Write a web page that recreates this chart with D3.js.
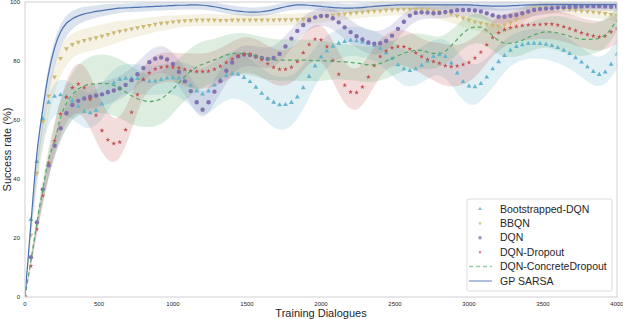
<!DOCTYPE html>
<html>
<head>
<meta charset="utf-8">
<script src="https://cdn.jsdelivr.net/npm/d3@7"></script>
<style>
  body { margin: 0; background: #fff; }
  text { font-family: "Liberation Sans", Arial, sans-serif; fill: #262626; }
</style>
</head>
<body>
<div id="chart"></div>
<script>
// x positions of the smoothed curves (every 40 dialogues) and of the band widths (every 80)
var dialogues = d3.range(0, 4001, 40),
    bandDialogues = d3.range(0, 4001, 80);

var bootstrapped = [
  0, 26.2, 45.9, 60.5, 66.0, 68.0, 68.5, 67.9, 66.5, 64.6,
  62.9, 62.4, 63.3, 65.5, 69.6, 72.5, 73.8, 74.1, 74.1, 74.0,
  73.6, 73.1, 73.2, 73.7, 74.2, 74.3, 74.2, 73.2, 71.7, 69.8,
  68.8, 69.8, 71.8, 73.7, 75.0, 75.6, 75.5, 74.4, 73.0, 71.1,
  69.0, 67.3, 66.0, 65.1, 65.2, 65.9, 67.8, 70.9, 74.7, 78.3,
  81.3, 83.4, 85.0, 86.0, 86.6, 87.0, 86.8, 86.4, 85.9, 85.2,
  84.3, 82.7, 80.8, 78.7, 77.3, 76.7, 77.3, 78.5, 80.0, 81.5,
  82.1, 81.5, 79.3, 75.9, 73.0, 71.5, 71.2, 72.3, 74.5, 77.3,
  79.7, 81.8, 83.6, 84.9, 85.5, 85.9, 86.0, 85.9, 85.6, 85.2,
  84.5, 83.6, 82.5, 81.1, 79.6, 78.0, 76.4, 75.4, 76.2, 78.9,
  82.3];
var bbqn = [
  0, 21.0, 42.0, 59.5, 68.2, 74.6, 80.9, 84.2, 85.6, 86.4,
  87.0, 87.5, 87.9, 88.4, 89.0, 89.6, 90.1, 90.5, 90.9, 91.3,
  91.7, 92.1, 92.5, 92.8, 93.0, 93.3, 93.5, 93.7, 93.8, 93.9,
  93.9, 93.9, 93.9, 93.8, 93.8, 93.9, 93.9, 93.9, 93.9, 93.9,
  93.9, 93.9, 93.9, 94.0, 94.0, 94.0, 94.1, 94.2, 94.4, 94.7,
  95.0, 95.3, 95.6, 95.8, 96.0, 96.2, 96.4, 96.6, 96.8, 97.0,
  97.1, 97.3, 97.4, 97.5, 97.6, 97.6, 97.6, 97.6, 97.4, 97.1,
  96.8, 96.4, 96.0, 95.3, 94.6, 93.9, 93.3, 92.9, 92.5, 92.1,
  91.9, 92.3, 93.1, 94.2, 95.6, 97.0, 97.8, 98.1, 98.2, 98.2,
  98.0, 97.8, 97.5, 97.2, 97.0, 96.8, 96.6, 96.4, 96.1, 95.8,
  95.5];
var dqn = [
  0, 13.5, 25.3, 36.5, 44.6, 51.3, 57.2, 62.3, 65.1, 66.5,
  67.3, 67.9, 68.3, 68.7, 69.4, 70.0, 70.7, 71.9, 73.5, 75.5,
  77.6, 79.6, 80.8, 81.2, 80.5, 79.0, 76.3, 73.1, 69.8, 66.0,
  63.5, 66.0, 69.6, 73.2, 76.7, 79.5, 81.6, 82.2, 82.0, 81.5,
  81.0, 80.7, 81.0, 82.4, 84.9, 87.6, 90.2, 92.2, 93.8, 94.8,
  95.3, 95.3, 94.5, 93.1, 91.4, 89.8, 88.4, 87.3, 86.3, 85.9,
  86.0, 86.8, 88.6, 90.9, 93.3, 95.4, 96.3, 96.5, 96.4, 96.2,
  96.3, 96.6, 96.9, 97.2, 97.3, 97.3, 97.1, 96.8, 96.2, 95.5,
  95.0, 95.0, 95.3, 95.6, 96.2, 96.8, 97.3, 97.6, 97.8, 97.9,
  98.1, 98.2, 98.3, 98.4, 98.5, 98.6, 98.6, 98.6, 98.5, 98.4,
  98.4];
var dqnDropout = [
  0, 10.5, 23.0, 34.4, 45.5, 53.0, 62.0, 67.7, 70.9, 72.2,
  71.0, 67.0, 61.6, 56.4, 53.3, 52.0, 52.5, 56.7, 62.6, 68.6,
  73.7, 76.0, 77.3, 77.9, 78.1, 77.9, 77.6, 77.1, 76.7, 76.4,
  76.4, 76.5, 77.2, 78.2, 79.5, 80.7, 81.7, 82.3, 82.4, 81.7,
  80.5, 79.1, 77.9, 77.2, 77.2, 77.9, 79.8, 82.8, 85.6, 87.4,
  87.2, 84.9, 80.2, 75.5, 71.8, 69.5, 69.3, 71.2, 74.6, 78.5,
  81.5, 83.4, 84.5, 84.9, 84.8, 84.1, 82.8, 81.5, 80.5, 79.8,
  79.2, 78.4, 78.1, 78.3, 78.8, 79.5, 81.0, 83.0, 85.5, 88.0,
  89.6, 90.6, 91.3, 91.7, 92.0, 92.2, 92.3, 92.4, 92.5, 92.5,
  92.2, 91.6, 91.0, 90.3, 89.6, 89.0, 88.5, 88.2, 88.5, 89.8,
  91.0];
var dqnConcrete = [
  0, 12.2, 25.0, 36.5, 46.8, 52.8, 60.8, 65.7, 68.6, 70.5,
  71.6, 72.1, 72.3, 72.4, 72.3, 71.7, 70.8, 69.5, 68.2, 67.2,
  66.6, 66.2, 66.5, 67.2, 68.7, 70.5, 72.6, 74.7, 76.6, 78.0,
  78.9, 79.6, 80.4, 81.2, 82.0, 82.5, 82.6, 82.5, 82.3, 81.7,
  81.1, 80.7, 80.4, 80.3, 80.3, 80.3, 80.3, 80.3, 80.2, 80.1,
  80.1, 80.0, 79.9, 79.8, 79.7, 79.5, 79.3, 79.0, 78.7, 78.7,
  79.2, 80.0, 80.9, 81.8, 82.6, 83.2, 83.6, 83.6, 83.0, 82.6,
  82.6, 83.3, 85.2, 87.3, 89.4, 90.9, 91.5, 91.5, 90.3, 88.6,
  86.9, 86.1, 86.0, 86.4, 87.0, 88.0, 88.9, 89.5, 89.9, 89.8,
  89.5, 89.0, 88.4, 87.8, 87.4, 87.3, 87.4, 87.7, 88.8, 91.0,
  94.0];
var gpSarsa = [
  0, 25.0, 48.5, 63.5, 76.0, 84.5, 89.8, 92.8, 94.3, 95.3,
  96.0, 96.4, 96.8, 97.1, 97.4, 97.7, 97.9, 98.0, 98.1, 98.2,
  98.3, 98.4, 98.5, 98.6, 98.7, 98.8, 98.9, 98.9, 99.0, 99.0,
  98.9, 98.7, 98.4, 98.0, 97.6, 97.2, 96.9, 96.7, 96.6, 96.6,
  96.7, 97.0, 97.4, 97.9, 98.4, 98.8, 99.0, 99.0, 98.9, 98.7,
  98.5, 98.3, 98.1, 98.0, 97.9, 97.9, 98.0, 98.1, 98.3, 98.5,
  98.7, 98.8, 98.9, 99.0, 99.0, 99.0, 99.0, 99.0, 99.0, 99.0,
  99.0, 99.0, 99.0, 99.0, 99.0, 99.0, 98.9, 98.8, 98.7, 98.6,
  98.6, 98.6, 98.7, 98.8, 98.9, 99.0, 99.0, 99.1, 99.1, 99.1,
  99.1, 99.1, 99.1, 99.1, 99.1, 99.1, 99.1, 99.1, 99.1, 99.1,
  99.1];

// half width of the shaded band, every 80 dialogues
var bootstrappedBand = [0,3,5,6,6,6,6,6,5,5, 5,5,5,6,7,8,8,8,8,8, 8,9,9,8,7,6,5,5,5,5, 5,6,6,6,6,6,7,7,7,6, 6,5,5,5,5,5,5,5,5,5, 5];
var bbqnBand = [0,4,5,5,4,4,4,4,3.5,3, 3,2.5,2.5,2,2,2,2,2,2,2, 2,2,2,2,2,2,2,2,2,2, 2,2,2,2,2,2.5,3,3,3,3, 3,3,2.5,2,2,2,2,2,2,2, 2];
var dqnBand = [0,2,3,3.5,4,4,4,4,4,4, 4,4.5,4.5,4.5,4.5,4.5,4,4,3.5,3.5, 3.5,3.5,3.5,3,3,3,3.5,4,4,4, 4,3.5,3,2.5,2,2,2,2,2,2.5, 2.5,2.5,2,2,2,1.5,1.5,1.5,1.5,1.5, 1.5];
var dqnDropoutBand = [0,2,4,6,8,9,9,8,7,6, 5,5,5,5,6,6,6,6,6,6, 6,6,6,6,6,6,7,7,7,7, 6,6,6,6,6,7,7,7,7,6, 6,5,5,5,5,5,5,5,5,5, 5];
var dqnConcreteBand = [0,3,5,7,8,9,10,10,10,10, 9,9,9,8,8,8,7,7,7,7, 7,7,7,7,7,7,6,6,6,6, 6,6,6,6,6,5,5,5,5,5, 5,5,5,5,5,6,6,6,5,5, 4];
var gpSarsaBand = [0,4,5,4,3,2.5,2,2,1.5,1.5, 1.5,1.5,1.5,1.5,1.5,1.5,1.5,1.5,1.5,1.5, 1.5,1.5,1.5,1.5,1.5,1.5,1.5,1.5,1.5,1.5, 1.5,1.5,1.5,1.5,1.5,1.5,1.5,1.5,1.5,1.5, 1.5,1.5,1.5,1.5,1.5,1.5,1.5,1.5,1.5,1.5, 1.5];

var xTicks = [0, 500, 1000, 1500, 2000, 2500, 3000, 3500, 4000],
    yTicks = [0, 20, 40, 60, 80, 100];

var series = [
  {name: "Bootstrapped-DQN", values: bootstrapped, band: bootstrappedBand, color: "#64B5CD", mark: "triUp"},
  {name: "BBQN", values: bbqn, band: bbqnBand, color: "#CCB974", mark: "triDown"},
  {name: "DQN", values: dqn, band: dqnBand, color: "#8172B2", mark: "circle"},
  {name: "DQN-Dropout", values: dqnDropout, band: dqnDropoutBand, color: "#C44E52", mark: "star"},
  {name: "DQN-ConcreteDropout", values: dqnConcrete, band: dqnConcreteBand, color: "#55A868", mark: "dash"},
  {name: "GP SARSA", values: gpSarsa, band: gpSarsaBand, color: "#4C72B0", mark: "line"}
];

var width = 623, height = 319,
    margin = {top: 2, right: 6, bottom: 22, left: 25};

var svg = d3.select("#chart").append("svg")
    .attr("width", width)
    .attr("height", height);

var x = d3.scaleLinear().domain([0, 4000]).range([margin.left, width - margin.right]);
var y = d3.scaleLinear().domain([0, 100]).range([height - margin.bottom, margin.top]);

svg.append("clipPath").attr("id", "plot")
  .append("rect")
    .attr("x", x(0)).attr("y", y(100))
    .attr("width", x(4000) - x(0)).attr("height", y(0) - y(100));

var plot = svg.append("g").attr("clip-path", "url(#plot)");

var band = d3.area()
    .x(function(d) { return x(d.x); })
    .y0(function(d) { return y(d.lo); })
    .y1(function(d) { return y(d.hi); })
    .curve(d3.curveBasis);

series.forEach(function(s) {
  var pts = bandDialogues.map(function(d, j) {
    var m = s.values[j * 2];
    return {x: d, lo: m - s.band[j], hi: m + s.band[j]};
  });
  plot.append("path")
    .attr("d", band(pts))
    .attr("fill", s.color)
    .attr("fill-opacity", 0.2);
});

var line = d3.line()
    .x(function(d, i) { return x(dialogues[i]); })
    .y(function(d) { return y(d); })
    .curve(d3.curveMonotoneX);

var symbols = {
  triUp: d3.symbol().type(d3.symbolTriangle).size(10),
  triDown: d3.symbol().type(d3.symbolTriangle).size(10),
  circle: d3.symbol().type(d3.symbolCircle).size(15),
  star: d3.symbol().type(d3.symbolStar).size(7)
};

series.forEach(function(s) {
  if (s.mark == "line" || s.mark == "dash") {
    plot.append("path")
      .attr("d", line(s.values))
      .attr("fill", "none")
      .attr("stroke", s.color)
      .attr("stroke-width", 1.2)
      .attr("stroke-dasharray", s.mark == "dash" ? "4,3" : null);
  } else {
    plot.selectAll(null)
      .data(s.values)
      .enter()
      .append("path")
      .attr("d", symbols[s.mark])
      .attr("transform", function(d, i) {
        return "translate(" + x(dialogues[i]) + "," + y(d) + ")" + (s.mark == "triDown" ? " rotate(180)" : "");
      })
      .attr("fill", s.color);
  }
});

// frame
svg.append("rect")
    .attr("x", x(0)).attr("y", y(100))
    .attr("width", x(4000) - x(0)).attr("height", y(0) - y(100))
    .attr("fill", "none")
    .attr("stroke", "#d0d0d0")
    .attr("stroke-width", 1);

svg.selectAll(".xt")
    .data(xTicks)
    .enter()
    .append("text")
    .attr("class", "xt")
    .attr("x", function(d) { return x(d); })
    .attr("y", y(0) + 9)
    .attr("text-anchor", "middle")
    .attr("font-size", 6)
    .text(function(d) { return d; });

svg.selectAll(".yt")
    .data(yTicks)
    .enter()
    .append("text")
    .attr("class", "yt")
    .attr("x", x(0) - 5)
    .attr("y", function(d) { return y(d) + 2; })
    .attr("text-anchor", "end")
    .attr("font-size", 6)
    .text(function(d) { return d; });

svg.append("text")
    .attr("x", (x(0) + x(4000)) / 2)
    .attr("y", 317)
    .attr("text-anchor", "middle")
    .attr("font-size", 11)
    .text("Training Dialogues");

svg.append("text")
    .attr("transform", "translate(11," + (y(50)) + ") rotate(-90)")
    .attr("text-anchor", "middle")
    .attr("font-size", 11)
    .text("Success rate (%)");

// legend
var legend = svg.append("g").attr("transform", "translate(467,199)");

legend.append("rect")
    .attr("width", 145)
    .attr("height", 92)
    .attr("rx", 2)
    .attr("fill", "#fff")
    .attr("fill-opacity", 0.8)
    .attr("stroke", "#dcdcdc");

var rows = legend.selectAll(".row")
    .data(series)
    .enter()
    .append("g")
    .attr("class", "row")
    .attr("transform", function(d, i) { return "translate(0," + (10 + i * 14.4) + ")"; });

rows.each(function(s) {
  var g = d3.select(this);
  if (s.mark == "line" || s.mark == "dash") {
    g.append("line")
      .attr("x1", 2).attr("x2", 25)
      .attr("stroke", s.color)
      .attr("stroke-opacity", 0.6)
      .attr("stroke-width", 1.5)
      .attr("stroke-dasharray", s.mark == "dash" ? "4,3" : null);
  } else {
    g.append("path")
      .attr("d", symbols[s.mark])
      .attr("transform", "translate(13,0)" + (s.mark == "triDown" ? " rotate(180)" : "") + " scale(0.8)")
      .attr("fill", s.color)
      .attr("fill-opacity", 0.8);
  }
  g.append("text")
    .attr("x", 33)
    .attr("y", 3.5)
    .attr("font-size", 10.5)
    .text(s.name);
});
</script>
</body>
</html>
